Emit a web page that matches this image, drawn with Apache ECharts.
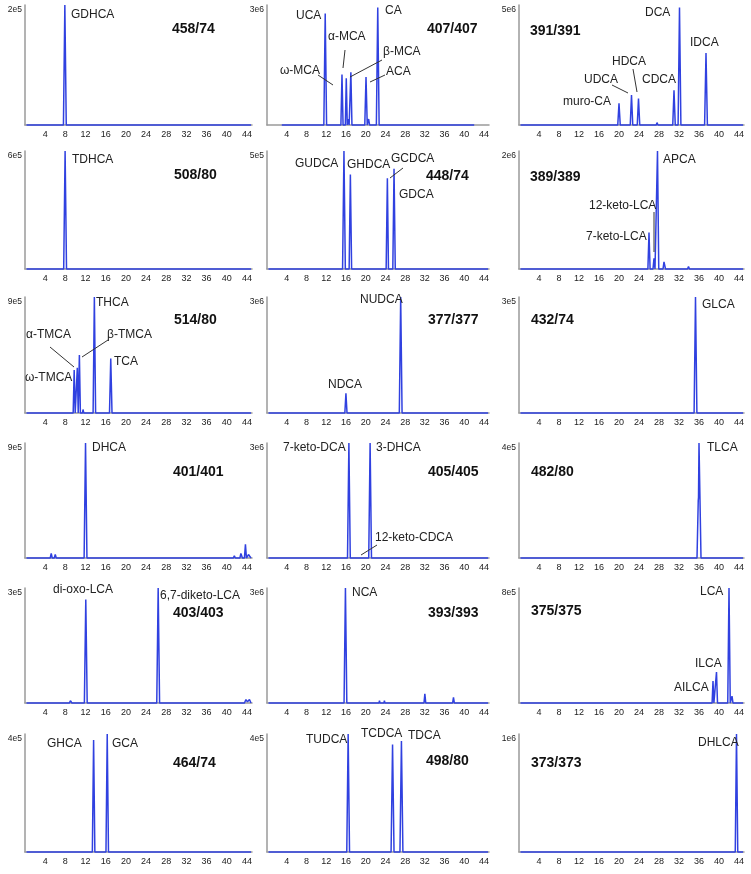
<!DOCTYPE html>
<html>
<head>
<meta charset="utf-8">
<script src="https://cdn.jsdelivr.net/npm/echarts@6/dist/echarts.min.js"></script>
<style>
html,body{margin:0;padding:0;background:#fff;}
#main{width:751px;height:874px;}
</style>
</head>
<body>
<div id="main"></div>
<script>
// ---------------- DATA ----------------
const ionLabels = ['458/74','407/407','391/391','508/80','448/74','389/389','514/80','377/377','432/74',
  '401/401','405/405','482/80','403/403','393/393','375/375','464/74','498/80','373/373'];
const yMaxValues = [2e5,3e6,5e6,6e5,5e5,2e6,9e5,3e6,3e5,9e5,3e6,4e5,3e5,3e6,8e5,4e5,4e5,1e6];
const yMaxLabels = ['2e5','3e6','5e6','6e5','5e5','2e6','9e5','3e6','3e5','9e5','3e6','4e5','3e5','3e6','8e5','4e5','4e5','1e6'];
const xTickValues = [4,8,12,16,20,24,28,32,36,40,44];

// retention time (min), intensity
const tr01 = [[0.3,0],[7.62,0],[7.9,200000],[8.18,0],[44.8,0]];
const tr02 = [[3,0],[11.52,0],[11.8,2790000],[12.08,0],[14.98,0],[15.2,1260000],[15.42,0],[15.88,0],[16.07,1170000],[16.27,0],
  [16.45,150000],[16.65,0],[16.8,0],[17.0,1320000],[17.22,0],[19.82,0],[20.07,1200000],[20.32,0],[20.6,150000],[20.8,0],
  [22.17,0],[22.45,2940000],[22.73,0],[42,0]];
const tr03 = [[0.3,0],[19.75,0],[20.0,900000],[20.25,0],[22.25,0],[22.5,1250000],[22.75,0],[23.65,0],[23.9,1100000],[24.15,0],
  [27.45,0],[27.6,100000],[27.8,0],[30.75,0],[31.0,1450000],[31.25,0],[31.82,0],[32.1,4900000],[32.38,0],
  [37.12,0],[37.4,3000000],[37.68,0],[44.8,0]];
const tr04 = [[0.3,0],[7.67,0],[7.95,600000],[8.23,0],[44.8,0]];
const tr05 = [[0.3,0],[15.32,0],[15.6,500000],[15.88,0],[16.65,0],[16.9,400000],[17.15,0],[18.1,0],[18.2,6000],[18.3,0],
  [24.15,0],[24.4,385000],[24.62,0],[25.5,0],[25.75,425000],[26.0,0],[26.3,5000],[26.5,0],[44.8,0]];
const tr06 = [[0.3,0],[20.0,0],[20.1,10000],[20.2,0],[25.78,0],[26.0,620000],[26.22,0],[26.8,0],[27.0,180000],[27.2,0],
  [27.45,0],[27.7,2000000],[27.95,0],[28.8,0],[29.0,120000],[29.3,0],[33.7,0],[33.9,40000],[34.1,0],[43.6,0],[43.8,20000],[44.0,0],[44.8,0]];
const tr07 = [[0.3,0],[9.55,0],[9.75,333000],[9.95,0],[10.2,0],[10.37,350000],[10.55,0],[10.6,0],[10.78,450000],[10.98,0],
  [11.4,0],[11.5,27000],[11.65,0],[13.5,0],[13.75,900000],[14.0,0],[14.9,0],[15.0,9000],[15.1,0],
  [16.75,0],[17.0,423000],[17.25,0],[44.8,0]];
const tr08 = [[0.3,0],[15.78,0],[16.0,510000],[16.22,0],[26.82,0],[27.1,3000000],[27.38,0],[42.9,0],[43.0,30000],[43.1,0],[44.8,0]];
const tr09 = [[0.3,0],[35.02,0],[35.3,300000],[35.58,0],[44.8,0]];
const tr10 = [[0.3,0],[5.0,0],[5.2,36000],[5.4,0],[5.8,0],[6.0,27000],[6.2,0],[11.72,0],[12.0,900000],[12.28,0],
  [41.3,0],[41.5,18000],[41.7,0],[42.6,0],[42.8,36000],[43.1,0],[43.5,0],[43.7,108000],[43.9,0],[44.3,27000],[44.8,0]];
const tr11 = [[0.3,0],[15.4,0],[15.5,30000],[15.6,0],[16.32,0],[16.6,3000000],[16.88,0],[18.4,0],[18.6,45000],[18.8,0],
  [20.62,0],[20.9,3000000],[21.18,0],[44.8,0]];
const tr12 = [[0.3,0],[35.6,0],[35.85,200000],[35.9,210000],[36.0,400000],[36.4,0],[44.8,0]];
const tr13 = [[0.3,0],[8.8,0],[9.0,6000],[9.3,0],[11.77,0],[12.05,270000],[12.33,0],[15.1,0],[15.2,3000],[15.3,0],
  [16.2,0],[16.3,4500],[16.4,0],[20.4,0],[20.5,3000],[20.6,0],[26.12,0],[26.4,300000],[26.68,0],
  [43.5,0],[43.8,9000],[44.1,3000],[44.5,9000],[44.8,0]];
const tr14 = [[0.3,0],[15.62,0],[15.9,3000000],[16.18,0],[20.1,0],[20.2,30000],[20.3,0],[22.7,0],[22.8,60000],[22.9,0],
  [23.7,0],[23.8,60000],[23.9,0],[31.2,0],[31.3,45000],[31.4,0],[31.82,0],[32.0,240000],[32.18,0],
  [37.62,0],[37.8,150000],[37.98,0],[43.9,0],[44.0,30000],[44.1,0],[44.8,0]];
const tr15 = [[0.3,0],[4.5,0],[4.6,12000],[4.8,0],[11.9,0],[12.0,8000],[12.1,0],[38.62,0],[38.8,152000],[38.98,0],
  [39.3,0],[39.5,216000],[39.7,0],[41.75,0],[42.0,800000],[42.25,0],[42.45,0],[42.6,48000],[42.8,0],[44.8,0]];
const tr16 = [[0.3,0],[13.35,0],[13.6,380000],[13.85,0],[16.05,0],[16.3,400000],[16.55,0],[44.8,0]];
const tr17 = [[0.3,0],[16.17,0],[16.45,400000],[16.73,0],[19.9,0],[20.0,4000],[20.1,0],[25.15,0],[25.45,364000],[25.75,0],
  [26.95,0],[27.25,376000],[27.55,0],[44.8,0]];
const tr18 = [[0.3,0],[36.9,0],[37.0,10000],[37.1,0],[43.25,0],[43.5,1000000],[43.75,0],[44.8,0]];
const traces = [tr01,tr02,tr03,tr04,tr05,tr06,tr07,tr08,tr09,tr10,tr11,tr12,tr13,tr14,tr15,tr16,tr17,tr18];

// peak annotation texts (panel index, text)
const peakTexts = [
  [0,'GDHCA'],
  [1,'UCA'],[1,'CA'],[1,'α-MCA'],[1,'ω-MCA'],[1,'β-MCA'],[1,'ACA'],
  [2,'DCA'],[2,'IDCA'],[2,'HDCA'],[2,'UDCA'],[2,'CDCA'],[2,'muro-CA'],
  [3,'TDHCA'],
  [4,'GUDCA'],[4,'GHDCA'],[4,'GCDCA'],[4,'GDCA'],
  [5,'APCA'],[5,'12-keto-LCA'],[5,'7-keto-LCA'],
  [6,'THCA'],[6,'α-TMCA'],[6,'β-TMCA'],[6,'ω-TMCA'],[6,'TCA'],
  [7,'NUDCA'],[7,'NDCA'],
  [8,'GLCA'],
  [9,'DHCA'],
  [10,'7-keto-DCA'],[10,'3-DHCA'],[10,'12-keto-CDCA'],
  [11,'TLCA'],
  [12,'di-oxo-LCA'],[12,'6,7-diketo-LCA'],
  [13,'NCA'],
  [14,'LCA'],[14,'ILCA'],[14,'AILCA'],
  [15,'GHCA'],[15,'GCA'],
  [16,'TUDCA'],[16,'TCDCA'],[16,'TDCA'],
  [17,'DHLCA']
];

// ---------------- LAYOUT ----------------
const colLeft = [25, 267, 519];
const colWidth = [227, 222, 225];
const rowTop = [5, 151, 297, 443, 588, 734];
const rowBottom = [125, 269, 413, 558, 703, 852];
// pixel positions (left, middle) of peak texts, same order as peakTexts
const peakTextPos = [
  [71,15],
  [296,16],[385,11],[328,37],[280,71],[383,52],[386,72],
  [645,13],[690,43],[612,62],[584,80],[642,80],[563,102],
  [72,160],
  [295,164],[347,165],[391,159],[399,195],
  [663,160],[589,206],[586,237],
  [96,303],[26,335],[107,335],[25,378],[114,362],
  [360,300],[328,385],
  [702,305],
  [92,448],
  [283,448],[376,448],[375,538],
  [707,448],
  [53,590],[160,596],
  [352,593],
  [700,592],[695,664],[674,688],
  [47,744],[112,744],
  [306,740],[361,734],[408,736],
  [698,743]
];
const ionPos = [
  [172,29],[427,29],[530,31],
  [174,175],[426,176],[530,177],
  [174,320],[428,320],[531,320],
  [173,472],[428,472],[531,472],
  [173,613],[428,613],[531,611],
  [173,763],[426,761],[531,763]
];
const leaders = [
  [318,75,333,85],[345,50,343,68],[382,60,350,77],[385,75,370,82],
  [612,85,628,93],[633,69,637,92],
  [403,168,390,178],
  [654,212,654,252],
  [50,347,74,367],[108,340,82,357],
  [377,545,361,555]
];

// ---------------- BUILD ----------------
const FONT = '"Liberation Sans", Arial, Helvetica, sans-serif';
const grids = [], xAxes = [], yAxes = [], series = [], graphics = [];
for (let i = 0; i < 18; i++) {
  const r = Math.floor(i / 3), c = i % 3;
  grids.push({left: colLeft[c], top: rowTop[r], width: colWidth[c], height: rowBottom[r] - rowTop[r], containLabel: false});
  xAxes.push({
    type: 'value', gridIndex: i, min: 0, max: 45, interval: 4,
    axisLine: {show: true, onZero: false, lineStyle: {color: '#9a9a9a', width: 1.5}},
    axisTick: {show: false}, splitLine: {show: false},
    axisLabel: {fontSize: 9, color: '#222', margin: 5, fontFamily: FONT,
      formatter: v => xTickValues.indexOf(v) >= 0 ? String(v) : ''}
  });
  const ymax = yMaxValues[i], ylab = yMaxLabels[i];
  yAxes.push({
    type: 'value', gridIndex: i, min: 0, max: ymax, interval: ymax,
    axisLine: {show: true, lineStyle: {color: '#9a9a9a', width: 1.5}},
    axisTick: {show: false}, splitLine: {show: false},
    axisLabel: {fontSize: 8.5, color: '#222', margin: 3, verticalAlign: 'top', fontFamily: FONT,
      formatter: v => v === ymax ? ylab : ''}
  });
  series.push({
    type: 'line', xAxisIndex: i, yAxisIndex: i, data: traces[i],
    showSymbol: false, symbol: 'none', smooth: false, clip: false,
    lineStyle: {color: '#3041e0', width: 1.5}, z: 3
  });
}
peakTexts.forEach((p, k) => {
  graphics.push({type: 'text', x: peakTextPos[k][0], y: peakTextPos[k][1], z: 10,
    style: {text: p[1], font: '12px ' + FONT, fill: '#222', align: 'left', verticalAlign: 'middle',
      textAlign: 'left', textVerticalAlign: 'middle'}});
});
ionLabels.forEach((t, k) => {
  graphics.push({type: 'text', x: ionPos[k][0], y: ionPos[k][1], z: 10,
    style: {text: t, font: 'bold 14px ' + FONT, fill: '#111', align: 'left', verticalAlign: 'middle',
      textAlign: 'left', textVerticalAlign: 'middle'}});
});
leaders.forEach(l => {
  graphics.push({type: 'line', z: 10, shape: {x1: l[0], y1: l[1], x2: l[2], y2: l[3]},
    style: {stroke: '#333', lineWidth: 1}});
});

const chart = echarts.init(document.getElementById('main'), null, {renderer: 'canvas'});
chart.setOption({
  animation: false,
  backgroundColor: '#fff',
  grid: grids, xAxis: xAxes, yAxis: yAxes, series: series, graphic: graphics
});
</script>
</body>
</html>
